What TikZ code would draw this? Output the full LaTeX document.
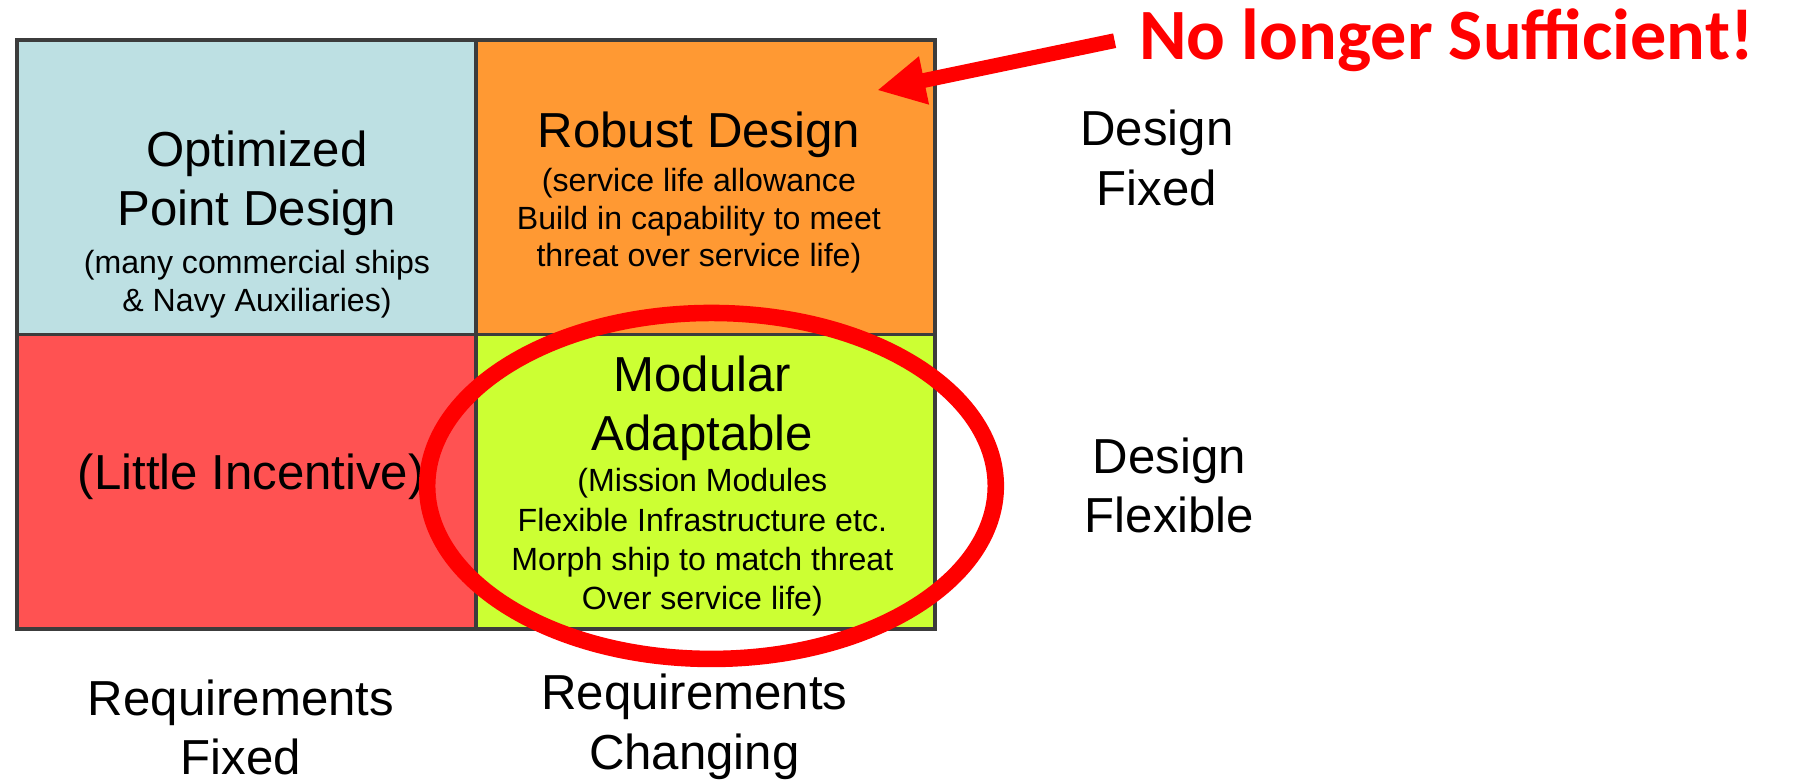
\documentclass[tikz,border=0pt]{standalone}
\usepackage{fontspec}
\usepackage{xcolor}
\usepackage{tikz}
\usetikzlibrary{arrows.meta, positioning}
\setmainfont{Liberation Sans}
\newfontfamily\warnfont{Carlito}
\definecolor{optblue}{RGB}{189,224,227}
\definecolor{robustorange}{RGB}{255,153,51}
\definecolor{littlered}{RGB}{255,82,82}
\definecolor{modlime}{RGB}{204,255,51}
\definecolor{gridgray}{RGB}{60,60,60}
\newcommand{\bigtext}{\fontsize{24.5}{29.6}\selectfont}
\newcommand{\smalltext}{\fontsize{16}{18.8}\selectfont}
\tikzstyle{cell} = [draw=gridgray, line width=1.7pt, minimum width=8.04cm, minimum height=5.16cm, inner sep=0pt, outer sep=0pt]
\tikzstyle{bigtxt} = [font=\bigtext, align=center, inner sep=0pt, anchor=north]
\tikzstyle{smalltxt} = [font=\smalltext, align=center, inner sep=0pt, anchor=north]
\tikzstyle{ring} = [draw=red, line width=0.29cm]
\tikzstyle{bigarrow} = [red, line width=0.26cm, -{Triangle[length=0.84cm, width=0.8cm]}]

\begin{document}
\begin{tikzpicture}[x=0.02cm, y=-0.02cm]
        \useasboundingbox (0,0) rectangle (1570,684);

        % Grid cells
        \node[cell, fill=optblue] (opt_cell) at (216,164) {};
        \node[cell, fill=robustorange] (rob_cell) [right=0pt of opt_cell] {};
        \node[cell, fill=littlered] (lit_cell) [below=0pt of opt_cell] {};
        \node[cell, fill=modlime] (mod_cell) [right=0pt of lit_cell] {};

        % Cell texts
        \node[bigtxt] (opt_title) at (225,114) {Optimized\\Point Design};
        \node[smalltxt, below=0.24cm of opt_title] (opt_sub) {(many commercial ships\\\& Navy Auxiliaries)};

        \node[bigtxt] (rob_title) at (612,98) {Robust Design};
        \node[smalltxt, below=0.16cm of rob_title] (rob_sub) {(service life allowance\\Build in capability to meet\\threat over service life)};

        \node[bigtxt] (lit_label) at (220,397) {(Little Incentive)};

        \node[bigtxt] (mod_title) at (615,311) {Modular\\Adaptable};
        \node[smalltxt, below=0.12cm of mod_title, font=\fontsize{16}{19.6}\selectfont] (mod_sub) {(Mission Modules\\Flexible Infrastructure etc.\\Morph ship to match threat\\Over service life)};

        % Axis labels
        \node[bigtxt] (fix_label) at (1013,96) {Design\\Fixed};
        \node[bigtxt] (flex_label) at (1024,383) {Design\\Flexible};
        \node[bigtxt] (reqf_label) at (211,595) {Requirements\\Fixed};
        \node[bigtxt] (reqc_label) at (608,590) {Requirements\\Changing};

        % Highlight ring
        \draw[ring] (623,425.5) ellipse [x radius=4.98cm, y radius=3.03cm];

        % Callout
        \node[font=\warnfont\bfseries\fontsize{36}{40}\selectfont, text=red, inner xsep=0.42cm, inner ysep=0pt, anchor=base west] (warn) at (976,52.5) {No longer Sufficient!};
        \coordinate (warn_tip) at (768,79);
        \draw[bigarrow] (warn.west) -- (warn_tip);

    \end{tikzpicture}
\end{document}
